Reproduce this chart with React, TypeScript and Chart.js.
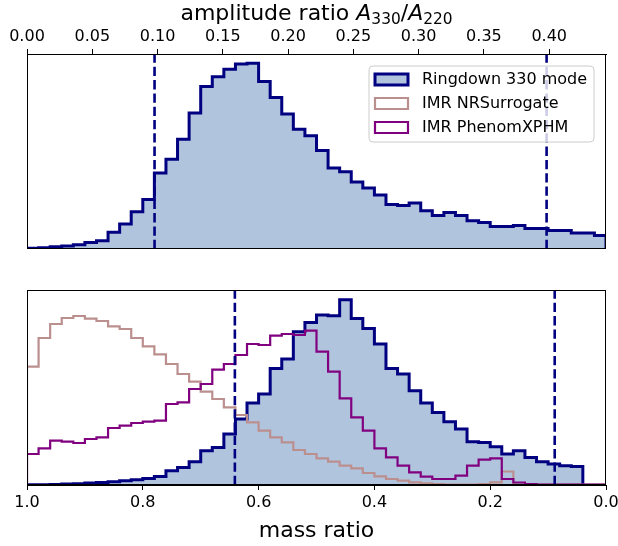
import React, { useEffect, useRef } from "react";
import { Chart, registerables } from "chart.js";

Chart.register(...registerables);

// ---------------- top panel: amplitude ratio A330/A220 ----------------
const AMP_BIN_START = 0;
const AMP_BIN_WIDTH = 0.00887;
const AMP_RINGDOWN = [
  0.7, 1.3, 2.3, 3.0, 4.3, 6.6, 8.2, 16.8, 25, 37.3,
  49.6, 76, 90, 110, 136.3, 162.7, 172.5, 180, 185.3, 186,
  167.7, 151.8, 135.3, 120, 113.3, 98.7, 81, 77.3, 67, 61,
  54, 44.6, 43.6, 46, 38.3, 33.6, 36.6, 33.6, 28.3, 26.6,
  22.6, 22.6, 23.6, 20.6, 20.6, 18.6, 18.6, 16, 16, 13.6,
];
const AMP_TICKS = [0, 0.05, 0.1, 0.15, 0.2, 0.25, 0.3, 0.35, 0.4];
const AMP_AXIS = [0, 0.4435];
const AMP_INTERVAL = [0.0977, 0.398];
const AMP_YMAX = 195.3;
// title "amplitude ratio A330/A220": [text, style] pieces (n = normal, i = italic, s = subscript)
const AMP_TITLE = [
  ["amplitude ratio ", "n"],
  ["A", "i"],
  ["330", "s"],
  ["/", "n"],
  ["A", "i"],
  ["220", "s"],
];

// ---------------- bottom panel: mass ratio ----------------
const Q_BIN_START = 1.0;
const Q_BIN_WIDTH = -0.02;
const Q_RINGDOWN = [
  0.3, 0.3, 0.6, 1, 1.3, 2, 2.6, 3.3, 4.3, 5.3, 6.6, 8.6,
  14.3, 17.6, 23.3, 34.3, 37.6, 51, 66, 82, 91, 116.6, 126, 153.3, 162.6,
  170, 169.3, 185.3, 166.6, 156.6, 141, 116.6, 111, 94.3, 82, 72.6, 63.3, 56,
  43.3, 42.6, 38.3, 31, 34.3, 27.6, 23.3, 21, 19.3, 18.6,
];
const Q_NRSUR = [
  118.3, 147, 161, 167, 169, 166.3, 164, 158.6, 156, 147, 138.6, 130.6, 121,
  111, 103.3, 93.3, 86, 77.6, 70, 62.6, 54.3, 47.6, 42.6, 35, 31,
  26.6, 23.3, 19.3, 16.6, 12, 8.6, 6, 4.3, 2.6, 1.6, 0.8, 0.5, 0.4, 0.4, 1.0,
  2.6, 13.5, 0.3, 0.3, 0.3, 0.3, 0.3, 0.3, 0.3, 0.3,
];
const Q_PHENOM = [
  31, 36.6, 44.3, 43.3, 42, 46, 47.6, 57, 59.3, 62, 63.3, 64.3, 81,
  82.6, 96, 101, 115.3, 121, 130, 141, 140, 149.3, 151, 150, 154.3,
  133.3, 113.3, 86.6, 67.6, 54.3, 36.6, 27.6, 19.3, 12.6, 8.3, 6, 6, 9.3,
  19.3, 25.3, 26.6, 6, 2.5, 0.8, 0.3, 0.3, 0.3, 0.3, 0.3, 0.3,
];
const Q_TICKS = [0, 0.2, 0.4, 0.6, 0.8, 1.0];
const Q_AXIS = [0, 1];
const Q_INTERVAL = [0.641, 0.0886];
const Q_YMAX = 195;

const LEGEND_LABELS = ["Ringdown 330 mode", "IMR NRSurrogate", "IMR PhenomXPHM"];

// ---------------- styles ----------------
const FONT = "'DejaVu Sans', sans-serif";
const NAVY = "#000080";
const FILL = "#b0c4de";
const ROSY = "#bc8f8f";
const PURPLE = "#800080";

function stepPoints(start: number, width: number, heights: number[]) {
  const pts: { x: number; y: number }[] = [{ x: start, y: 0 }];
  heights.forEach((h, i) => pts.push({ x: start + width * i, y: h }));
  const end = start + width * heights.length;
  pts.push({ x: end, y: heights[heights.length - 1] });
  pts.push({ x: end, y: 0 });
  return pts;
}

function histDataset(label: string, pts: any[], color: string, width: number, order: number, fill?: string) {
  return {
    type: "line" as const,
    label,
    data: pts,
    stepped: "before" as const,
    borderColor: color,
    borderWidth: width,
    backgroundColor: fill || "transparent",
    fill: fill ? "origin" : false,
    pointRadius: 0,
    tension: 0,
    order,
  };
}

function vlineDataset(x: number, ymax: number) {
  return {
    type: "line" as const,
    label: "bound",
    data: [{ x, y: 0 }, { x, y: ymax }],
    borderColor: NAVY,
    borderWidth: 2.6,
    borderDash: [9.3, 4],
    pointRadius: 0,
    fill: false,
    order: 0,
  };
}

const framePlugin = {
  id: "frame",
  afterDatasetsDraw(chart: any) {
    const { ctx, chartArea } = chart;
    ctx.save();
    ctx.strokeStyle = "#000";
    ctx.lineWidth = 1;
    const l = Math.round(chartArea.left) + 0.5;
    const t = Math.round(chartArea.top) + 0.5;
    const r = Math.round(chartArea.right) - 0.5;
    const b = Math.round(chartArea.bottom) - 0.5;
    ctx.strokeRect(l, t, r - l, b - t);
    ctx.restore();
  },
};

function pieceFont(style: string) {
  if (style === "i") return `italic 22px ${FONT}`;
  if (style === "s") return `15.4px ${FONT}`;
  return `22px ${FONT}`;
}

const titlePlugin = {
  id: "mathTitle",
  afterDraw(chart: any) {
    const { ctx, chartArea } = chart;
    ctx.save();
    ctx.textBaseline = "alphabetic";
    ctx.textAlign = "left";
    ctx.fillStyle = "#000";
    let total = 0;
    const widths = AMP_TITLE.map(([t, s]) => {
      ctx.font = pieceFont(s);
      const w = ctx.measureText(t).width;
      total += w;
      return w;
    });
    let x = (chartArea.left + chartArea.right) / 2 - total / 2;
    const baseline = 20;
    AMP_TITLE.forEach(([t, s], i) => {
      ctx.font = pieceFont(s);
      ctx.fillText(t, x, s === "s" ? baseline + 4.2 : baseline);
      x += widths[i];
    });
    ctx.restore();
  },
};

const LEGEND_STYLE = [
  { color: NAVY, width: 3, fill: FILL },
  { color: ROSY, width: 2.2, fill: null },
  { color: PURPLE, width: 2.2, fill: null },
];

const legendPlugin = {
  id: "boxLegend",
  afterDraw(chart: any) {
    const { ctx, chartArea } = chart;
    const w = 225;
    const h = 76;
    const x0 = chartArea.right - 12 - w;
    const y0 = chartArea.top + 12;
    ctx.save();
    const r = 4;
    ctx.beginPath();
    ctx.moveTo(x0 + r, y0);
    ctx.lineTo(x0 + w - r, y0);
    ctx.quadraticCurveTo(x0 + w, y0, x0 + w, y0 + r);
    ctx.lineTo(x0 + w, y0 + h - r);
    ctx.quadraticCurveTo(x0 + w, y0 + h, x0 + w - r, y0 + h);
    ctx.lineTo(x0 + r, y0 + h);
    ctx.quadraticCurveTo(x0, y0 + h, x0, y0 + h - r);
    ctx.lineTo(x0, y0 + r);
    ctx.quadraticCurveTo(x0, y0, x0 + r, y0);
    ctx.closePath();
    ctx.fillStyle = "rgba(255,255,255,0.8)";
    ctx.fill();
    ctx.strokeStyle = "#cccccc";
    ctx.lineWidth = 1;
    ctx.stroke();
    LEGEND_LABELS.forEach((label, i) => {
      const st = LEGEND_STYLE[i];
      const cy = y0 + 13.5 + 24 * i;
      ctx.beginPath();
      ctx.rect(x0 + 6, cy - 5.5, 33, 11);
      if (st.fill) {
        ctx.fillStyle = st.fill;
        ctx.fill();
      }
      ctx.lineWidth = st.width;
      ctx.strokeStyle = st.color;
      ctx.stroke();
      ctx.fillStyle = "#000";
      ctx.font = `16px ${FONT}`;
      ctx.textBaseline = "middle";
      ctx.textAlign = "left";
      ctx.fillText(label, x0 + 53, cy);
    });
    ctx.restore();
  },
};

const baseOptions = {
  animation: false as const,
  responsive: false,
  devicePixelRatio: 1,
  events: [] as any[],
  plugins: { legend: { display: false }, tooltip: { enabled: false } },
};

export default function App() {
  const topRef = useRef<HTMLCanvasElement>(null);
  const botRef = useRef<HTMLCanvasElement>(null);

  useEffect(() => {
    const top = new Chart(topRef.current as HTMLCanvasElement, {
      type: "line",
      data: {
        datasets: [
          histDataset(LEGEND_LABELS[0], stepPoints(AMP_BIN_START, AMP_BIN_WIDTH, AMP_RINGDOWN), NAVY, 3, 3, FILL),
          ...AMP_INTERVAL.map((x) => vlineDataset(x, AMP_YMAX)),
        ] as any,
      },
      options: {
        ...baseOptions,
        layout: { padding: { left: 27, right: 12, top: 0, bottom: 13 } },
        scales: {
          x: {
            type: "linear",
            position: "top",
            min: AMP_AXIS[0],
            max: AMP_AXIS[1],
            afterBuildTicks: (s: any) => {
              s.ticks = AMP_TICKS.map((v) => ({ value: v }));
            },
            afterFit: (s: any) => {
              s.height = 54;
            },
            ticks: {
              callback: (v: any) => Number(v).toFixed(2),
              font: { family: FONT, size: 16 },
              color: "#000",
              padding: 3,
              maxRotation: 0,
              autoSkip: false,
            },
            grid: { drawOnChartArea: false, drawTicks: true, tickLength: 5, color: "#000", tickColor: "#000" },
            border: { display: true, color: "#000", width: 1 },
            title: { display: false },
          },
          y: { type: "linear", display: false, min: 0, max: AMP_YMAX },
        },
      } as any,
      plugins: [framePlugin, legendPlugin, titlePlugin],
    });

    const bot = new Chart(botRef.current as HTMLCanvasElement, {
      type: "line",
      data: {
        datasets: [
          histDataset(LEGEND_LABELS[0], stepPoints(Q_BIN_START, Q_BIN_WIDTH, Q_RINGDOWN), NAVY, 3, 3, FILL),
          histDataset(LEGEND_LABELS[1], stepPoints(Q_BIN_START, Q_BIN_WIDTH, Q_NRSUR), ROSY, 2.2, 2),
          histDataset(LEGEND_LABELS[2], stepPoints(Q_BIN_START, Q_BIN_WIDTH, Q_PHENOM), PURPLE, 2.2, 1),
          ...Q_INTERVAL.map((x) => vlineDataset(x, Q_YMAX)),
        ] as any,
      },
      options: {
        ...baseOptions,
        layout: { padding: { left: 27, right: 12, top: 28, bottom: 0 } },
        scales: {
          x: {
            type: "linear",
            position: "bottom",
            reverse: true,
            min: Q_AXIS[0],
            max: Q_AXIS[1],
            afterBuildTicks: (s: any) => {
              s.ticks = Q_TICKS.map((v) => ({ value: v }));
            },
            afterFit: (s: any) => {
              s.height = 61;
            },
            ticks: {
              callback: (v: any) => Number(v).toFixed(1),
              font: { family: FONT, size: 16 },
              color: "#000",
              padding: 3,
              maxRotation: 0,
              autoSkip: false,
            },
            grid: { drawOnChartArea: false, drawTicks: true, tickLength: 5, color: "#000", tickColor: "#000" },
            border: { display: true, color: "#000", width: 1 },
            title: {
              display: true,
              text: "mass ratio",
              font: { family: FONT, size: 22 },
              color: "#000",
              padding: { top: 0, bottom: 2 },
            },
          },
          y: { type: "linear", display: false, min: 0, max: Q_YMAX },
        },
      } as any,
      plugins: [framePlugin],
    });

    return () => {
      top.destroy();
      bot.destroy();
    };
  }, []);

  return (
    <div style={{ position: "absolute", left: 0, top: 0, width: 618, height: 546, background: "#fff" }}>
      <canvas ref={topRef} width={618} height={262} style={{ position: "absolute", left: 0, top: 0 }} />
      <canvas ref={botRef} width={618} height={284} style={{ position: "absolute", left: 0, top: 262 }} />
    </div>
  );
}
